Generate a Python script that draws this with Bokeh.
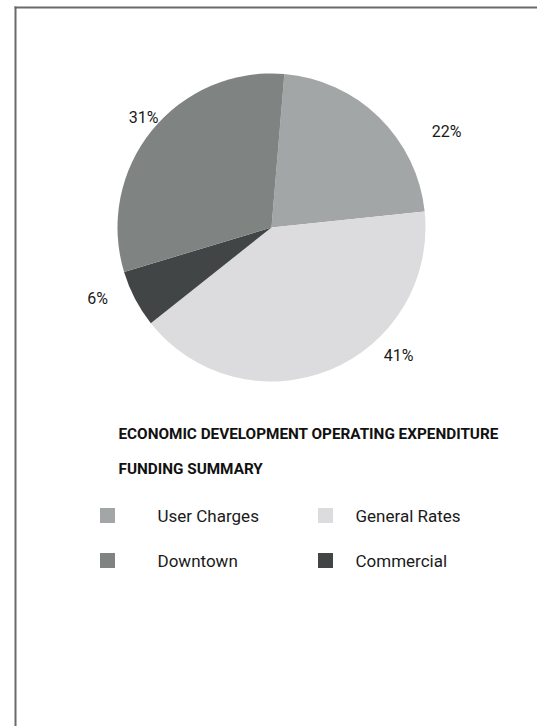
import math
from bokeh.plotting import figure
from bokeh.models import ColumnDataSource, Range1d
from bokeh.core.properties import value
from bokeh.embed import file_html
from bokeh.resources import INLINE

# ---- data ----
categories = ["User Charges", "General Rates", "Commercial", "Downtown"]
shares = [22, 41, 6, 31]
slice_colors = ["#a3a6a6", "#dcdcde", "#424545", "#7f8382"]
legend_order = ["User Charges", "General Rates", "Downtown", "Commercial"]
title_lines = ["ECONOMIC DEVELOPMENT OPERATING EXPENDITURE", "FUNDING SUMMARY"]

FONT = "Roboto"

W, H = 537, 726
def X(px):
    return px
def Y(py):
    return H - py

p = figure(width=W, height=H, x_range=Range1d(0, W), y_range=Range1d(0, H),
           output_backend="svg", toolbar_location=None, min_border=0,
           x_axis_type=None, y_axis_type=None)
p.grid.visible = False
p.outline_line_color = None
p.background_fill_color = "white"

# frame (top and left edges visible)
p.line(x=[X(14), W], y=[Y(7), Y(7)], line_color="#6a6a6a", line_width=2)
p.line(x=[X(15), X(15)], y=[Y(6), 0], line_color="#6a6a6a", line_width=2)

# ---- pie ----
cx, cy, r = X(271), Y(227), 154
start_deg = 90 - 4.8
total = sum(shares)
starts, ends = [], []
cum = 0
for v in shares:
    a0 = start_deg - cum / total * 360
    a1 = start_deg - (cum + v) / total * 360
    starts.append(math.radians(a1))
    ends.append(math.radians(a0))
    cum += v
src = ColumnDataSource(dict(cat=categories, val=shares, color=slice_colors,
                            start=starts, end=ends))
p.wedge(x=cx, y=cy, radius=r, radius_units="screen", start_angle="start",
        end_angle="end", fill_color="color", line_color=None, source=src)

# percentage labels
label_pos = {"User Charges": (446, 131), "General Rates": (398, 355),
             "Commercial": (97, 298), "Downtown": (143, 117)}
lsrc = ColumnDataSource(dict(
    x=[X(label_pos[c][0]) for c in categories],
    y=[Y(label_pos[c][1]) for c in categories],
    t=[f"{v}%" for v in shares]))
p.text(x="x", y="y", text="t", source=lsrc, text_align="center",
       text_baseline="middle", text_font=value(FONT), text_font_size="16px",
       text_color="#1a1a1a")

# title
for i, line in enumerate(title_lines):
    p.text(x=[X(118)], y=[Y(433 + i * 35)], text=[line], text_align="left",
           text_baseline="middle", text_font=value(FONT), text_font_size="15.3px",
           text_font_style="bold", text_color="#111111")

# legend
cmap = dict(zip(categories, slice_colors))
lx, ly, lc = [], [], []
tx, ty, tt = [], [], []
for i, c in enumerate(legend_order):
    col, row = i % 2, i // 2
    sx = 107 if col == 0 else 325
    txx = 157 if col == 0 else 355
    yy = 515 + row * 45
    lx.append(X(sx)); ly.append(Y(yy)); lc.append(cmap[c])
    tx.append(X(txx)); ty.append(Y(yy)); tt.append(c)
p.rect(x=lx, y=ly, width=15, height=15, width_units="screen",
       height_units="screen", fill_color=lc, line_color=None)
p.text(x=tx, y=ty, text=tt, text_align="left", text_baseline="middle",
       text_font=value(FONT), text_font_size="17px", text_color="#1a1a1a")

open("out.html", "w").write(file_html(p, INLINE))
